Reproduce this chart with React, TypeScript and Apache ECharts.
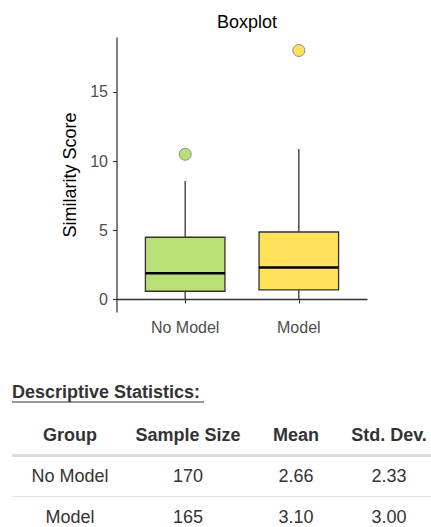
import React, { useEffect, useRef } from "react";
import * as echarts from "echarts";

const categories = ["No Model", "Model"];
const whiskerLow = [0, 0];
const q1 = [0.6, 0.7];
const medians = [1.9, 2.32];
const q3 = [4.5, 4.88];
const whiskerHigh = [8.57, 10.87];
const outlierGroup = [1, 2];
const outlierValue = [10.5, 18];
const fills = ["#B9E076", "#FFE15A"];
const yTicks = [0, 5, 10, 15];

const tableHeader = ["Group", "Sample Size", "Mean", "Std. Dev."];
const sampleSizes = ["170", "165"];
const means = ["2.66", "3.10"];
const stdDevs = ["2.33", "3.00"];

const FONT = "'Liberation Sans', Arial, sans-serif";

export default function App() {
  const ref = useRef<HTMLDivElement>(null);
  useEffect(() => {
    document.body.style.margin = "0";
    const chart = echarts.init(ref.current!, null, { renderer: "svg" });
    const boxData = categories.map((_, i) => [
      i + 1,
      whiskerLow[i],
      q1[i],
      medians[i],
      q3[i],
      whiskerHigh[i],
    ]);
    const outliers = outlierGroup.map((g, i) => ({
      value: [g, outlierValue[i]],
      itemStyle: { color: fills[g - 1] },
    }));

    const colX = [70, 188, 296, 389];
    const rowsY = [476, 517];
    const graphics: any[] = [
      {
        type: "text",
        left: 12,
        top: 383,
        style: {
          text: "Descriptive Statistics:",
          font: `bold 18px ${FONT}`,
          fill: "#333",
        },
      },
      {
        type: "line",
        shape: { x1: 12, y1: 402, x2: 204, y2: 402 },
        style: { stroke: "#333", lineWidth: 1 },
      },
      {
        type: "rect",
        shape: { x: 12, y: 454, width: 419, height: 3 },
        style: { fill: "#dddddd" },
      },
      {
        type: "rect",
        shape: { x: 12, y: 496, width: 419, height: 1 },
        style: { fill: "#e3e3e3" },
      },
    ];
    tableHeader.forEach((h, c) => {
      graphics.push({
        type: "text",
        x: colX[c],
        y: 435,
        style: {
          text: h,
          font: `bold 18px ${FONT}`,
          fill: "#333",
          align: "center",
          verticalAlign: "middle",
        },
      });
    });
    categories.forEach((cat, r) => {
      const cells = [cat, sampleSizes[r], means[r], stdDevs[r]];
      cells.forEach((t, c) => {
        graphics.push({
          type: "text",
          x: colX[c],
          y: rowsY[r],
          style: {
            text: t,
            font: `18px ${FONT}`,
            fill: "#333",
            align: "center",
            verticalAlign: "middle",
          },
        });
      });
    });

    chart.setOption({
      animation: false,
      backgroundColor: "#ffffff",
      textStyle: { fontFamily: FONT },
      title: {
        text: "Boxplot",
        left: 242,
        textAlign: "center",
        top: 8,
        textStyle: { fontSize: 18, fontWeight: "normal", color: "#000" },
      },
      grid: { left: 117, right: 64, top: 38, bottom: 215 },
      xAxis: {
        type: "value",
        min: 0.4,
        max: 2.6,
        splitLine: { show: false },
        axisLine: { show: true, lineStyle: { color: "#333", width: 1.3 } },
        axisTick: {
          show: true,
          customValues: [1, 2],
          length: 4,
          lineStyle: { color: "#333" },
        },
        axisLabel: {
          customValues: [1, 2],
          formatter: (v: number) => categories[Math.round(v) - 1] ?? "",
          color: "#4d4d4d",
          fontSize: 16,
          margin: 7,
        },
      },
      yAxis: {
        type: "value",
        min: -0.9,
        max: 18.9,
        name: "Similarity Score",
        nameLocation: "middle",
        nameRotate: 90,
        nameGap: 37,
        nameTextStyle: { color: "#000", fontSize: 18 },
        splitLine: { show: false },
        axisLine: { show: true, lineStyle: { color: "#555", width: 1.5 } },
        axisTick: {
          show: true,
          customValues: yTicks,
          length: 4,
          lineStyle: { color: "#333" },
        },
        axisLabel: {
          customValues: yTicks,
          color: "#4d4d4d",
          fontSize: 16,
          margin: 9,
        },
      },
      series: [
        {
          type: "custom",
          data: boxData,
          encode: { x: 0, y: [1, 2, 3, 4, 5] },
          renderItem: (params: any, api: any) => {
            const x = api.value(0);
            const pLow = api.coord([x, api.value(1)]);
            const pQ1 = api.coord([x, api.value(2)]);
            const pMed = api.coord([x, api.value(3)]);
            const pQ3 = api.coord([x, api.value(4)]);
            const pHigh = api.coord([x, api.value(5)]);
            const hw = api.size([0.7, 0])[0] / 2;
            const fill = fills[params.dataIndex];
            return {
              type: "group",
              children: [
                {
                  type: "line",
                  shape: { x1: pLow[0], y1: pLow[1], x2: pQ1[0], y2: pQ1[1] },
                  style: { stroke: "#333", lineWidth: 1.3 },
                },
                {
                  type: "line",
                  shape: { x1: pQ3[0], y1: pQ3[1], x2: pHigh[0], y2: pHigh[1] },
                  style: { stroke: "#333", lineWidth: 1.3 },
                },
                {
                  type: "rect",
                  shape: {
                    x: pQ3[0] - hw,
                    y: pQ3[1],
                    width: hw * 2,
                    height: pQ1[1] - pQ3[1],
                  },
                  style: { fill, stroke: "#333", lineWidth: 1.3 },
                },
                {
                  type: "line",
                  shape: {
                    x1: pMed[0] - hw,
                    y1: pMed[1],
                    x2: pMed[0] + hw,
                    y2: pMed[1],
                  },
                  style: { stroke: "#000", lineWidth: 2.5 },
                },
              ],
            };
          },
        },
        {
          type: "scatter",
          data: outliers,
          symbolSize: 12,
          itemStyle: { borderColor: "#8a8a8a", borderWidth: 1, opacity: 1 },
        },
      ],
      graphic: graphics,
    });
    return () => chart.dispose();
  }, []);
  return <div ref={ref} style={{ width: 431, height: 527 }} />;
}
